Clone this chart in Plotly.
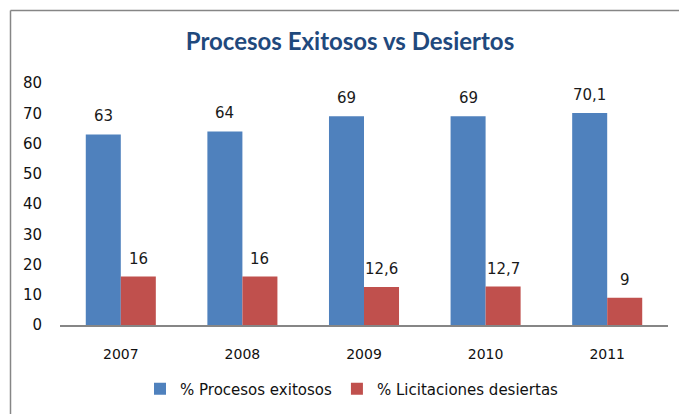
import plotly.graph_objects as go

years = ["2007", "2008", "2009", "2010", "2011"]
exitosos = [63, 64, 69, 69, 70.1]
desiertas = [16, 16, 12.6, 12.7, 9]
series_names = ["% Procesos exitosos", "% Licitaciones desiertas"]
title_text = "Procesos Exitosos vs Desiertos"
y_ticks = [0, 10, 20, 30, 40, 50, 60, 70, 80]

BLUE = "#4F81BD"
RED = "#C0504D"

def fmt(v):
    s = ("%g" % v)
    return s.replace(".", ",")

W, H = 687, 414
OFF = 8  # page body margin offset
# desired on-screen plot area: x 60..668, y 83..325
ML, MT = 60 - OFF, 83 - OFF
MR, MB = W - (668 - OFF), H - (325 - OFF)
PW, PH = W - ML - MR, H - MT - MB

def px_x(p):
    return (p - OFF - ML) / PW

def px_y(p):
    return (H - MB - (p - OFF)) / PH

fig = go.Figure()
fig.add_trace(go.Bar(x=years, y=exitosos, name=series_names[0],
                     marker=dict(color=BLUE, line=dict(width=0))))
fig.add_trace(go.Bar(x=years, y=desiertas, name=series_names[1],
                     marker=dict(color=RED, line=dict(width=0))))

annotations = []
bar_px = PW / len(years) * (1 - 0.424) / 2
for vals, sh in ((exitosos, -bar_px / 2), (desiertas, bar_px / 2)):
    for i, v in enumerate(vals):
        annotations.append(dict(x=i, y=v, xref="x", yref="y", text=fmt(v),
                                showarrow=False, xshift=sh, yshift=7,
                                yanchor="bottom",
                                font=dict(family="DejaVu Sans", size=15, color="#1a1a1a")))

shapes = [
    dict(type="line", xref="paper", yref="paper", x0=px_x(10.5), x1=px_x(W + 20),
         y0=px_y(10.5), y1=px_y(10.5), line=dict(color="#868686", width=1.5)),
    dict(type="line", xref="paper", yref="paper", x0=px_x(10.5), x1=px_x(10.5),
         y0=px_y(10.5), y1=px_y(H + 20), line=dict(color="#868686", width=1.5)),
]

fig.update_layout(
    width=W, height=H,
    margin=dict(l=ML, r=MR, t=MT, b=MB),
    paper_bgcolor="white", plot_bgcolor="white",
    barmode="group", bargap=0.424, bargroupgap=0,
    title=dict(text="<b>" + title_text + "</b>", x=(350 - OFF) / W, xanchor="center",
               y=1 - (42 - OFF) / H, yanchor="middle",
               font=dict(family="Lato", size=24, color="#1F497D")),
    xaxis=dict(type="category", range=[-0.5, len(years) - 0.5], showline=True,
               linecolor="#868686", linewidth=1.5, automargin=False,
               showgrid=False, ticks="", ticklabelstandoff=15,
               tickfont=dict(family="DejaVu Sans", size=14, color="#111111")),
    yaxis=dict(range=[0, 80], tickvals=y_ticks, showgrid=False, showline=False,
               zeroline=False, ticks="", ticklabelstandoff=17, automargin=False,
               tickfont=dict(family="DejaVu Sans", size=15, color="#111111")),
    legend=dict(orientation="h", xref="container", yref="container",
                x=(352 - OFF) / W, xanchor="center",
                y=1 - (389 - OFF) / H, yanchor="middle",
                font=dict(family="DejaVu Sans", size=15, color="#111111")),
    annotations=annotations,
    shapes=shapes,
    showlegend=True,
)

fig.write_html("out.html")
